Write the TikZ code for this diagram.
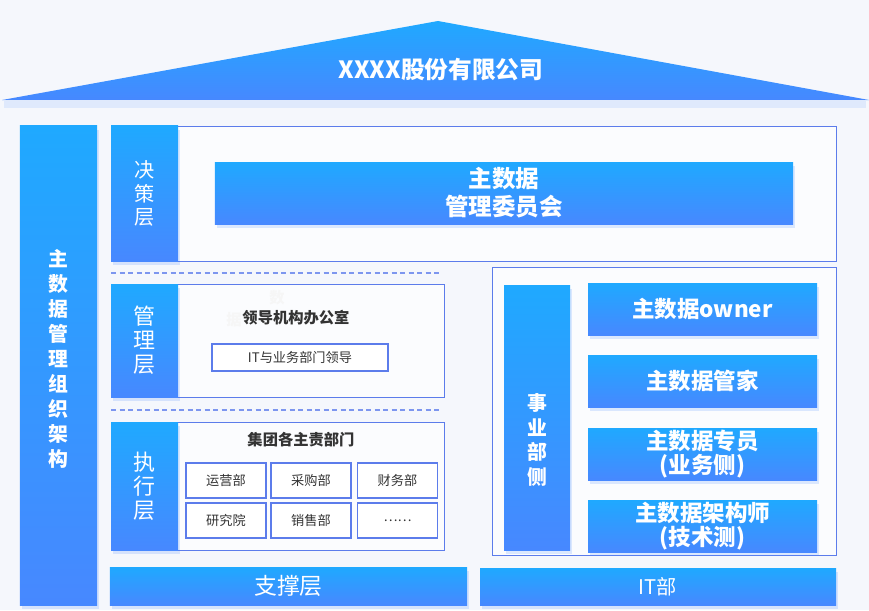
\documentclass[tikz,border=0pt]{standalone}
\usepackage{fontspec}
\setmainfont{Noto Sans CJK SC}
\usetikzlibrary{positioning,shadows,calc}
\definecolor{topc}{HTML}{1FA9FF}
\definecolor{botc}{HTML}{4788FF}
\definecolor{linec}{HTML}{5C7CEB}
\definecolor{bgc}{HTML}{F5F7FC}
\definecolor{txtc}{HTML}{333333}
\tikzset{
  grad/.style={top color=topc, bottom color=botc, draw=none, inner sep=0pt, text=white, align=center,
    drop shadow={shadow xshift=0.4mm, shadow yshift=-0.8mm, opacity=0.18, fill=botc}},
  frame/.style={draw=linec, line width=0.5pt, fill=white!60!bgc, inner sep=0pt},
  cell/.style={draw=linec, line width=0.6pt, fill=white, inner sep=0pt, minimum width=16mm, minimum height=7mm,
    font=\fontsize{7.5}{9}\selectfont, text=txtc},
  lab/.style={grad, minimum width=13.4mm, font=\fontsize{11.5}{13.6}\selectfont},
  role/.style={grad, minimum width=45.8mm, minimum height=10.4mm, font=\bfseries\fontsize{12.8}{14}\selectfont},
  sep/.style={draw=linec!80, line width=0.8pt, dash pattern=on 1mm off 0.7mm},
}
\begin{document}
\begin{tikzpicture}[x=0.2mm, y=-0.2mm]
  \fill[bgc] (0,0) rectangle (869,610);
  \useasboundingbox (0,0) rectangle (869,610);
  % roof
  \fill[botc, opacity=0.12] (4,101) -- (866,101) -- (866,108) -- (4,108) -- cycle;
  \shade[top color=topc, bottom color=botc] (2,100) -- (438,21) -- (869,100) -- cycle;
  \node[text=white, font=\bfseries\fontsize{13.5}{15}\selectfont] (corp) at (441,70) {XXXX股份有限公司};
  % left column
  \node[grad, minimum width=15.4mm, minimum height=95.8mm] (org) at (58.5,365.5) {};
  \node[text=white, align=center, font=\bfseries\fontsize{11.3}{14.2}\selectfont] (orgtxt) at (58.5,359)
    {主\\数\\据\\管\\理\\组\\织\\架\\构};
  % decision layer
  \node[frame, minimum width=145mm, minimum height=27mm] (jcbox) at (473.5,193.5) {};
  \node[lab, minimum height=27mm] (jclab) at (144.5,193.5) {决\\策\\层};
  \node[grad, minimum width=115.6mm, minimum height=12.4mm, font=\bfseries\fontsize{13.4}{16}\selectfont] (wyh) at (504,193)
    {主数据\\管理委员会};
  \draw[sep] (111,273) -- (442,273);
  % management layer
  \node[frame, minimum width=66.6mm, minimum height=22.6mm] (glbox) at (277.5,340.5) {};
  \node[lab, minimum height=22.6mm, font=\fontsize{12.5}{13.6}\selectfont] (gllab) at (144.5,340.5) {管\\理\\层};
  \node[font=\bfseries\fontsize{8.7}{10}\selectfont, text=gray!7] (ghosta) at (277,298) {数};
  \node[font=\bfseries\fontsize{8.7}{10}\selectfont, text=gray!7] (ghostb) at (234,320) {据};
  \node[font=\bfseries\fontsize{8.7}{10}\selectfont, text=txtc] (office) at (296,318) {领导机构办公室};
  \node[cell, minimum width=35.2mm, minimum height=5.4mm] (itld) at (300,357.5) {IT与业务部门领导};
  \draw[sep] (111,410) -- (440,410);
  % execution layer
  \node[frame, minimum width=66.6mm, minimum height=25.6mm] (zxbox) at (277.5,486) {};
  \node[lab, minimum height=25.6mm, font=\fontsize{12.5}{13.6}\selectfont] (zxlab) at (144.5,486) {执\\行\\层};
  \node[font=\bfseries\fontsize{8.7}{10}\selectfont, text=txtc] (dept) at (301,440) {集团各主责部门};
  \node[cell] (yy) at (226,480.5) {运营部};
  \node[cell] (cg) at (311,480.5) {采购部};
  \node[cell] (cw) at (397.5,480.5) {财务部};
  \node[cell] (yj) at (226,520.5) {研究院};
  \node[cell] (xs) at (311,520.5) {销售部};
  \node[cell] (more) at (397.5,520.5) {……};
  % support
  \node[grad, minimum width=71.4mm, minimum height=7.6mm, font=\fontsize{13}{15}\selectfont] (zc) at (288.5,586) {支撑层};
  % business side
  \node[frame, minimum width=68.8mm, minimum height=57.6mm] (rbox) at (664,411) {};
  \node[grad, minimum width=13.2mm, minimum height=53mm] (sy) at (537,417.5) {};
  \node[text=white, align=center, font=\bfseries\fontsize{11.3}{14.2}\selectfont] (sytxt) at (537,440) {事\\业\\部\\侧};
  \node[role] (owner) at (702.5,309) {主数据owner};
  \node[role] (gj) at (702.5,381) {主数据管家};
  \node[role, font=\bfseries\fontsize{12.8}{13.5}\selectfont] (zy) at (702.5,454) {主数据专员\\(业务侧)};
  \node[role, font=\bfseries\fontsize{12.8}{13.5}\selectfont] (jg) at (702.5,526) {主数据架构师\\(技术测)};
  \node[grad, minimum width=71.2mm, minimum height=7.4mm, font=\fontsize{11.5}{13}\selectfont] (it) at (658,586.5) {IT部};
\end{tikzpicture}
\end{document}
